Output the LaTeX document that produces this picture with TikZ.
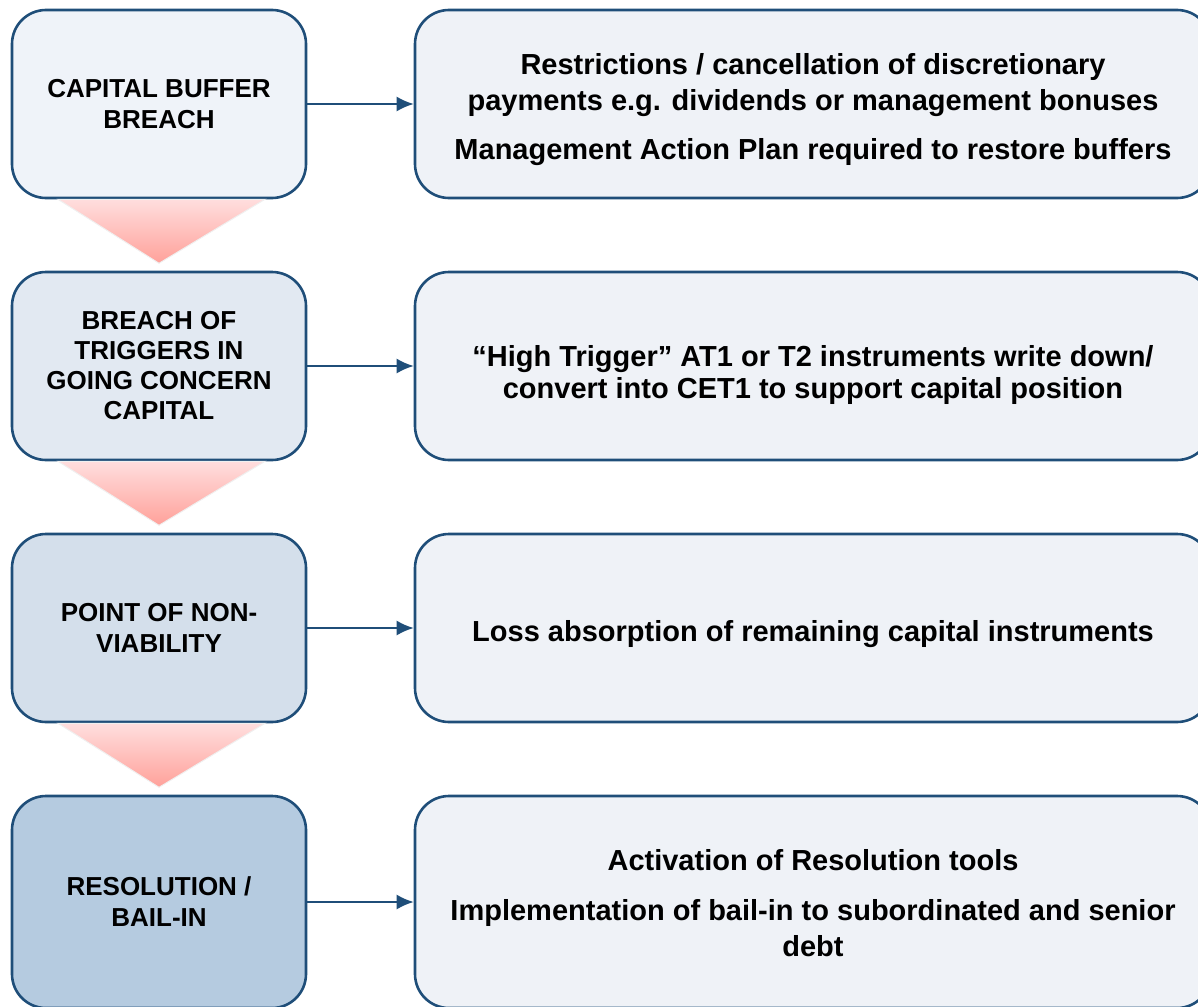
\documentclass[tikz,border=0pt]{standalone}
\usepackage{fontspec}
\setmainfont{Liberation Sans}
\usetikzlibrary{arrows.meta}

\definecolor{edgeblue}{HTML}{1F4E79}
\definecolor{fillA}{HTML}{EFF3F9}
\definecolor{fillB}{HTML}{E2E9F2}
\definecolor{fillC}{HTML}{D4DFEB}
\definecolor{fillD}{HTML}{B5CBE0}
\definecolor{rightfill}{HTML}{EFF2F7}
\definecolor{pinktop}{HTML}{FFDEDE}
\definecolor{pinkbot}{HTML}{FFA19A}

\tikzstyle{stage} = [draw=edgeblue, line width=2.6pt, rounded corners=34pt, minimum width=294pt, minimum height=188pt, align=center, inner sep=0pt, font=\fontsize{26}{31}\selectfont\bfseries]
\tikzstyle{effect} = [stage, minimum width=796pt, fill=rightfill]
\tikzstyle{say} = [align=center, inner sep=0pt, font=\fontsize{29}{36}\selectfont\bfseries]
\tikzstyle{link} = [draw=edgeblue, line width=2pt, -{Latex[length=17pt,width=15pt]}]
\tikzstyle{fall} = [top color=pinktop, bottom color=pinkbot, draw=black!6, line width=1pt]

\begin{document}
\begin{tikzpicture}[x=1pt, y=-1pt]
\path[use as bounding box, clip] (0,0) rectangle (1198,1006);

\node[stage, fill=fillA] (s1) at (159,104) {CAPITAL BUFFER\\BREACH};
\node[stage, fill=fillB, font=\fontsize{26}{30}\selectfont\bfseries] (s2) at (159,366) {BREACH OF\\TRIGGERS IN\\GOING CONCERN\\CAPITAL};
\node[stage, fill=fillC] (s3) at (159,628) {POINT OF NON-\\VIABILITY};
\node[stage, fill=fillD, minimum height=212pt] (s4) at (159,902) {RESOLUTION /\\BAIL-IN};

\shade[fall] ([xshift=-101pt]s1.south) -- ([xshift=106pt]s1.south) -- ([yshift=-64pt]s1.south) -- cycle;
\shade[fall] ([xshift=-101pt]s2.south) -- ([xshift=106pt]s2.south) -- ([yshift=-64pt]s2.south) -- cycle;
\shade[fall] ([xshift=-101pt]s3.south) -- ([xshift=106pt]s3.south) -- ([yshift=-64pt]s3.south) -- cycle;

\node[effect, label={[say, yshift=-6pt]center:{Restrictions / cancellation of discretionary\\payments e.g. dividends or management bonuses\\[13pt]Management Action Plan required to restore buffers}}] (e1) at (813,104) {};
\node[effect, label={[say, yshift=-9pt, font=\fontsize{29}{32}\selectfont\bfseries]center:{``High Trigger'' AT1 or T2 instruments write down/\\convert into CET1 to support capital position}}] (e2) at (813,366) {};
\node[effect, label={[say, yshift=-6pt]center:{Loss absorption of remaining capital instruments}}] (e3) at (813,628) {};
\node[effect, minimum height=212pt, label={[say, yshift=-1pt]center:{Activation of Resolution tools\\[14pt]Implementation of bail-in to subordinated and senior\\debt}}] (e4) at (813,902) {};

\draw[link] (s1.east) -- (e1.west);
\draw[link] (s2.east) -- (e2.west);
\draw[link] (s3.east) -- (e3.west);
\draw[link] (s4.east) -- (e4.west);
\end{tikzpicture}
\end{document}
